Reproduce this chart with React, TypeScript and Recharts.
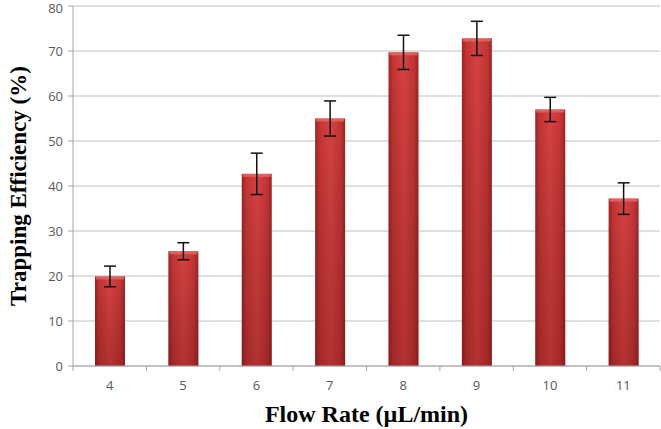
import {
  Bar,
  BarChart,
  CartesianGrid,
  ErrorBar,
  XAxis,
  YAxis,
} from 'recharts'

const flowRates = [4, 5, 6, 7, 8, 9, 10, 11]
const efficiency = [19.9, 25.5, 42.7, 55.0, 69.7, 72.8, 57.0, 37.2]
const errors = [2.3, 1.9, 4.6, 3.9, 3.8, 3.8, 2.7, 3.5]
const yTicks = [0, 10, 20, 30, 40, 50, 60, 70, 80]

const data = flowRates.map((r, i) => ({ rate: r, eff: efficiency[i], err: errors[i] }))

const tickStyle = { fill: '#595959', fontSize: 13, fontFamily: 'Open Sans, sans-serif' }
const titleFont = "'Liberation Serif', 'Times New Roman', serif"
const axisGray = '#a6a6a6'

function CylinderBar(props: any) {
  const { x, y, width, height } = props
  if (!height || height <= 0) return null
  return (
    <g>
      <rect x={x} y={y} width={width} height={height} fill="url(#barSide)" />
      <rect x={x} y={y} width={width} height={height} fill="url(#barShade)" />
      <rect x={x + 1} y={y} width={width - 2} height={3} fill="#e46a66" opacity={0.8} />
    </g>
  )
}

// category label plus Excel-style tick marks between categories
function RateTick(props: any) {
  const { x, y, payload, index, visibleTicksCount } = props
  const half = payload.offset || 0
  const isLast = index === visibleTicksCount - 1
  return (
    <g>
      <line x1={x - half} x2={x - half} y1={y} y2={y + 5} stroke={axisGray} />
      {isLast && <line x1={x + half} x2={x + half} y1={y} y2={y + 5} stroke={axisGray} />}
      <text x={x} y={y + 15} dy="0.71em" textAnchor="middle" {...tickStyle}>
        {payload.value}
      </text>
    </g>
  )
}

export default function App() {
  return (
    <div style={{ position: 'absolute', left: 0, top: 0, background: '#fff' }}>
      <BarChart
        width={661}
        height={429}
        data={data}
        margin={{ top: 6, right: 1, left: 0, bottom: 0 }}
      >
        <defs>
          <linearGradient id="barSide" x1="0" y1="0" x2="1" y2="0">
            <stop offset="0%" stopColor="#9e2424" />
            <stop offset="15%" stopColor="#c33535" />
            <stop offset="50%" stopColor="#d84242" />
            <stop offset="85%" stopColor="#c33535" />
            <stop offset="100%" stopColor="#9e2424" />
          </linearGradient>
          <linearGradient id="barShade" x1="0" y1="0" x2="0" y2="1">
            <stop offset="0%" stopColor="#000" stopOpacity={0} />
            <stop offset="100%" stopColor="#400" stopOpacity={0.25} />
          </linearGradient>
        </defs>
        <CartesianGrid stroke="#c0c0c0" vertical={false} />
        <XAxis
          dataKey="rate"
          axisLine={{ stroke: axisGray }}
          tickLine={false}
          tickSize={0}
          tickMargin={0}
          interval={0}
          tick={<RateTick />}
          height={63}
          label={{
            value: 'Flow Rate (µL/min)',
            position: 'insideBottom',
            offset: 7,
            style: { fill: '#000', fontSize: 24, fontWeight: 'bold', fontFamily: titleFont },
          }}
        />
        <YAxis
          domain={[0, 80]}
          ticks={yTicks}
          width={73}
          tickSize={5}
          tickMargin={5}
          stroke={axisGray}
          tick={tickStyle}
          label={{
            value: 'Trapping Efficiency (%)',
            angle: -90,
            position: 'insideLeft',
            offset: 18,
            style: { fill: '#000', fontSize: 23, fontWeight: 'bold', fontFamily: titleFont, textAnchor: 'middle' },
          }}
        />
        <Bar dataKey="eff" barSize={30} shape={<CylinderBar />} isAnimationActive={false}>
          <ErrorBar dataKey="err" width={6} stroke="#111" strokeWidth={1.5} />
        </Bar>
      </BarChart>
    </div>
  )
}
